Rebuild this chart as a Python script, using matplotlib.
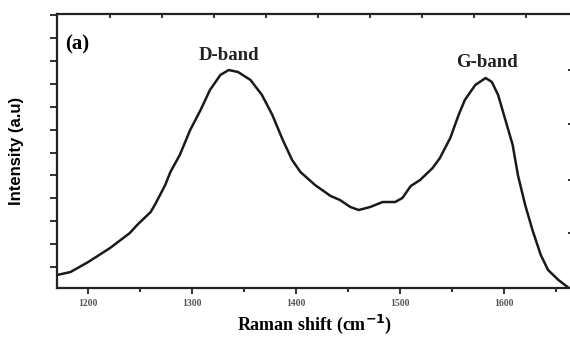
import numpy as np
import matplotlib
matplotlib.use("Agg")
import matplotlib.pyplot as plt
from matplotlib.ticker import MultipleLocator, FixedLocator, NullFormatter

# Raman spectrum
shift = [1170, 1183, 1200, 1221, 1240, 1247, 1260, 1264, 1274, 1279, 1288, 1298,
         1308, 1317, 1327, 1335, 1344, 1356, 1367, 1377, 1387, 1396, 1404, 1418,
         1433, 1442, 1452, 1460, 1471, 1483, 1495, 1502, 1510, 1519, 1531, 1538,
         1548, 1556, 1562, 1572, 1582, 1588, 1594, 1601, 1608, 1613, 1620, 1627,
         1635, 1642, 1652, 1662]
intensity = [13, 16, 26, 40, 55, 63, 76, 83, 103, 116, 133, 158,
             178, 198, 213, 218, 216, 208, 193, 173, 148, 128, 116, 103,
             92, 88, 81, 78, 81, 86, 86, 90, 102, 108, 120, 130,
             150, 173, 188, 203, 210, 206, 193, 168, 143, 113, 83, 58,
             33, 18, 8, 0]
xticks = [1200, 1300, 1400, 1500, 1600]
band_labels = ["D-band", "G-band"]
band_pos = [(1335, 233), (1583, 226)]

serif = ["Liberation Serif", "DejaVu Serif"]

fig = plt.figure(figsize=(5.7, 3.39), dpi=100)
ax = fig.add_axes([0.1, 0.1504, 0.9035, 0.8083])
ax.plot(shift, intensity, color="#1a1a1a", lw=1.8)
ax.set_xlim(1170, 1665)
ax.set_ylim(0, 274)

ax.xaxis.set_major_locator(FixedLocator(xticks))
ax.xaxis.set_minor_locator(MultipleLocator(50))
ax.tick_params(axis="x", which="both", direction="out", width=1.3, colors="#222222",
               labelsize=7, labelcolor="#555555", pad=4)
ax.tick_params(axis="x", which="major", length=4)
ax.tick_params(axis="x", which="minor", length=3)
for lab in ax.get_xticklabels():
    lab.set_family(serif)
    lab.set_fontweight("bold")

ax.yaxis.set_major_locator(FixedLocator(np.arange(21, 274, 22.9)))
ax.yaxis.set_major_formatter(NullFormatter())
ax.tick_params(axis="y", direction="out", length=5, width=1.3, colors="#222222")

for s in ax.spines.values():
    s.set_linewidth(1.6)
    s.set_color("#222222")

# top axis ticks (inward)
top = ax.twiny()
top.set_xlim(ax.get_xlim())
top.xaxis.set_major_locator(FixedLocator(np.arange(1221, 1640, 50)))
top.xaxis.set_major_formatter(NullFormatter())
top.tick_params(axis="x", direction="in", length=3, width=1.3, colors="#222222")
# right axis ticks (inward)
right = ax.twinx()
right.set_ylim(ax.get_ylim())
right.yaxis.set_major_locator(FixedLocator([55, 108, 164, 218]))
right.yaxis.set_major_formatter(NullFormatter())
right.tick_params(axis="y", direction="in", length=3, width=1.3, colors="#222222")
for a in (top, right):
    for s in a.spines.values():
        s.set_visible(False)

ax.text(1178, 244, "(a)", family=serif, fontweight="bold", fontsize=15,
        ha="left", va="center")
for lab, (x, y) in zip(band_labels, band_pos):
    ax.text(x, y, lab, family=serif, fontweight="bold", fontsize=13.5,
            ha="center", va="center", color="#222222")

ax.set_xlabel(r"Raman shift (cm$^{\mathbf{-1}}$)", family=serif, fontweight="bold",
              fontsize=13, labelpad=3)
ax.set_ylabel("Intensity (a.u)", family=["Liberation Sans", "DejaVu Sans"],
              fontweight="bold", fontsize=12, labelpad=15)

fig.savefig("out.png", dpi=100)
